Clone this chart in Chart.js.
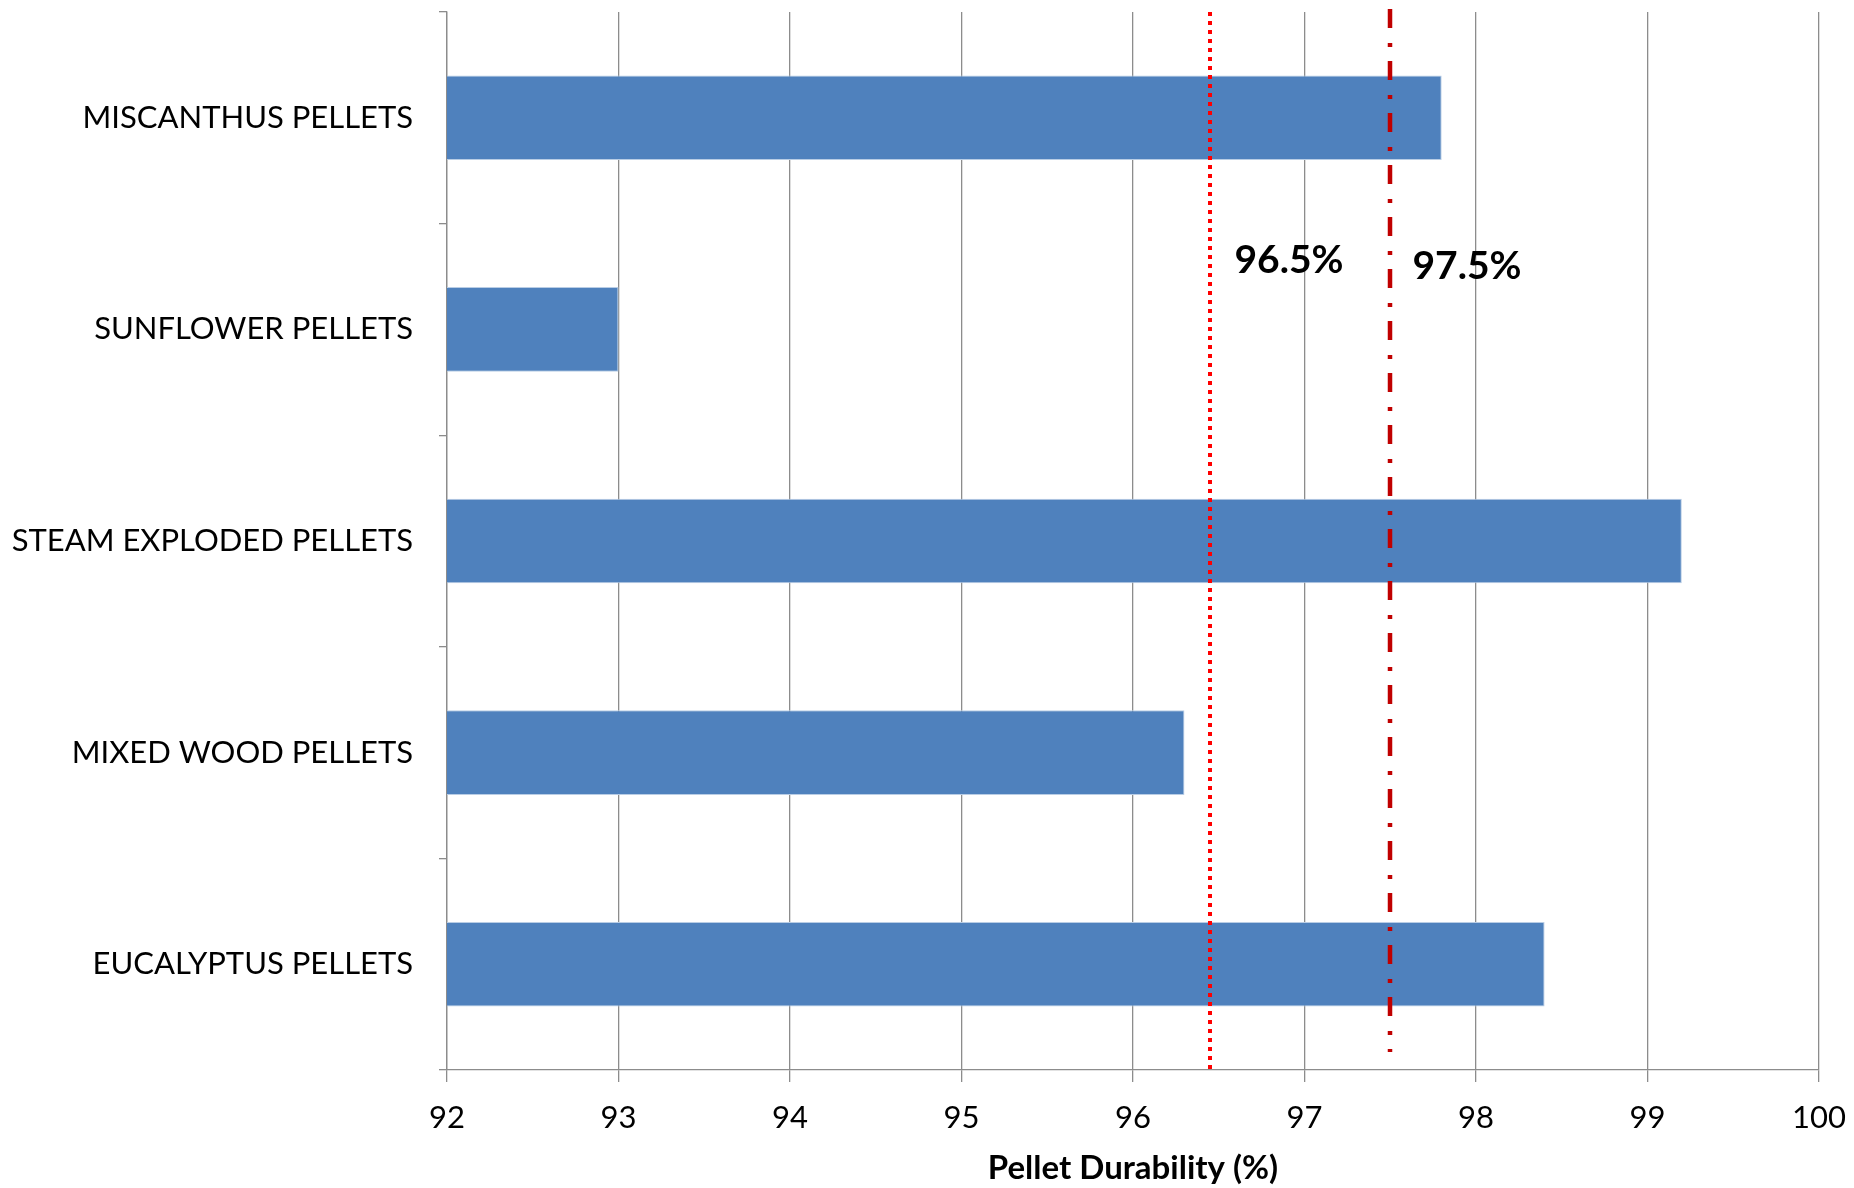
<!DOCTYPE html>
<html>
<head>
<meta charset="utf-8">
<script src="https://cdn.jsdelivr.net/npm/chart.js@4.4.0/dist/chart.umd.min.js"></script>
<style>
  html, body { margin: 0; padding: 0; background: #fff; }
  #wrap { width: 1854px; height: 1188px; }
</style>
</head>
<body>
<div id="wrap"><canvas id="durabilityChart"></canvas></div>
<script>
// Categories and values
const categories = ['MISCANTHUS PELLETS', 'SUNFLOWER PELLETS', 'STEAM EXPLODED PELLETS', 'MIXED WOOD PELLETS', 'EUCALYPTUS PELLETS'];
const durability = [97.8, 93.0, 99.2, 96.3, 98.4];
const xTicks = [92, 93, 94, 95, 96, 97, 98, 99, 100];
const limitValues = [96.45, 97.5];
const limitLabels = ['96.5%', '97.5%'];

const fontFamily = 'Lato, "Open Sans", sans-serif';

// Draws the two limit lines and their labels
const limitLines = {
  id: 'limitLines',
  afterDatasetsDraw(chart) {
    const ctx = chart.ctx;
    const x = chart.scales.x;
    const area = chart.chartArea;
    ctx.save();

    // dotted line
    let px = Math.round(x.getPixelForValue(limitValues[0]));
    ctx.strokeStyle = '#FF0000';
    ctx.lineWidth = 4;
    ctx.setLineDash([4, 5]);
    ctx.beginPath();
    ctx.moveTo(px, area.top);
    ctx.lineTo(px, area.bottom);
    ctx.stroke();

    ctx.fillStyle = '#000';
    ctx.font = 'bold 39px ' + fontFamily;
    ctx.textAlign = 'center';
    ctx.textBaseline = 'middle';
    ctx.fillText(limitLabels[0], px + 79, area.top + 248);

    // dash-dot line
    px = Math.round(x.getPixelForValue(limitValues[1]));
    ctx.strokeStyle = '#C00000';
    ctx.lineWidth = 4.5;
    ctx.setLineDash([19, 15, 4, 14]);
    ctx.beginPath();
    ctx.moveTo(px, area.top - 3);
    ctx.lineTo(px, area.bottom - 18);
    ctx.stroke();

    ctx.fillText(limitLabels[1], px + 77, area.top + 254);
    ctx.restore();
  }
};

new Chart(document.getElementById('durabilityChart'), {
  type: 'bar',
  data: {
    labels: categories,
    datasets: [{
      data: durability,
      backgroundColor: '#4F81BD',
      borderColor: '#B9CDE5',
      borderWidth: 1,
      borderSkipped: false,
      categoryPercentage: 0.4,
      barPercentage: 1.0
    }]
  },
  options: {
    indexAxis: 'y',
    responsive: true,
    maintainAspectRatio: false,
    animation: false,
    layout: { padding: { top: 12, right: 35, left: 0, bottom: 0 } },
    plugins: {
      legend: { display: false },
      tooltip: { enabled: false }
    },
    scales: {
      x: {
        min: 92,
        max: 100,
        afterBuildTicks: (scale) => { scale.ticks = xTicks.map(v => ({ value: v })); },
        afterFit: (scale) => {
          scale.height = 118;
          scale.paddingLeft = 0;
          scale.paddingRight = 0;
        },
        grid: {
          color: '#8C8C8C',
          lineWidth: 1.3,
          drawTicks: true,
          tickLength: 12
        },
        border: { display: true, color: '#8C8C8C', width: 1.3 },
        ticks: {
          color: '#000',
          font: { family: fontFamily, size: 31 },
          padding: 17,
          maxRotation: 0
        },
        title: {
          display: true,
          text: 'Pellet Durability (%)',
          color: '#000',
          font: { family: fontFamily, size: 33, weight: 'bold' },
          padding: { top: 0, bottom: 0 }
        }
      },
      y: {
        afterFit: (scale) => {
          scale.width = 447;
          scale.paddingTop = 0;
          scale.paddingBottom = 0;
        },
        grid: {
          offset: true,
          drawOnChartArea: false,
          drawTicks: true,
          tickLength: 8,
          color: '#8C8C8C',
          lineWidth: 1.3
        },
        border: { display: true, color: '#8C8C8C', width: 1.3 },
        ticks: {
          color: '#000',
          font: { family: fontFamily, size: 31 },
          padding: 26
        }
      }
    }
  },
  plugins: [limitLines]
});
</script>
</body>
</html>
